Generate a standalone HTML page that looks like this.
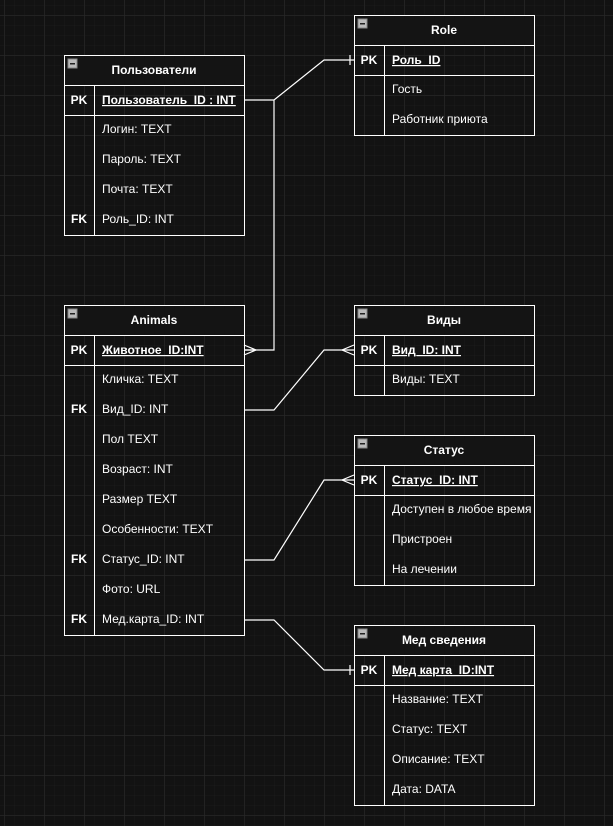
<!DOCTYPE html>
<html><head><meta charset="utf-8"><style>
html,body{margin:0;padding:0;background:#111;width:613px;height:826px;overflow:hidden}
svg{display:block}
text{font-family:"Liberation Sans","Noto Sans CJK SC",sans-serif;font-size:12px;fill:#fff}
</style></head><body>
<svg width="613" height="826" xmlns="http://www.w3.org/2000/svg">
<defs>
<pattern id="minor" width="10" height="10" patternUnits="userSpaceOnUse" x="4" y="5">
<path d="M0 0H10M0 0V10" stroke="#1b1b1b" stroke-width="1" fill="none"/></pattern>
<pattern id="major" width="40" height="40" patternUnits="userSpaceOnUse" x="4.5" y="15.5">
<path d="M0 0H40M0 0V40" stroke="#2a2a2a" stroke-width="1" fill="none"/></pattern>
</defs>
<rect width="613" height="826" fill="#121212"/>
<rect width="613" height="826" fill="url(#minor)"/>
<rect width="613" height="826" fill="url(#major)"/>

<g stroke="#fff" stroke-width="1.2" fill="none">
<path d="M244 100H274L324 60H354"/>
<path d="M350 55V65"/>
<path d="M274 100V350H244"/>
<path d="M244 350L256 350M244 345L256 350L244 355"/>
<path d="M244 410H274L324 350H354"/>
<path d="M354 345L342 350L354 355"/>
<path d="M244 560H274L324 480H354"/>
<path d="M354 475L342 480L354 485"/>
<path d="M244 620H274L324 670H354"/>
<path d="M350 665V675"/>
</g>

<g transform="translate(0,-1)">
<g>
<rect x="64.5" y="56.5" width="180" height="30" fill="#141414"/>
</g>
</g>

<g id="tables">
<rect x="64.5" y="55.5" width="180" height="30" fill="#141414"/>
<rect x="64.5" y="55.5" width="180" height="180" fill="none" stroke="#fff"/>
<path d="M64.5 85.5H244.5M64.5 115.5H244.5M94.5 85.5V235.5" stroke="#fff"/>
<rect x="68" y="59" width="9" height="9" fill="#bbb" stroke="#888"/><rect x="70" y="63" width="5" height="1.5" fill="#222"/>
<text x="154" y="74" text-anchor="middle" font-weight="bold">Пользователи</text>
<text x="79" y="104" text-anchor="middle" font-weight="bold">PK</text>
<text x="102" y="104" font-weight="bold" text-decoration="underline">Пользователь_ID : INT</text>
<text x="102" y="133">Логин: TEXT</text>
<text x="102" y="163">Пароль: TEXT</text>
<text x="102" y="193">Почта: TEXT</text>
<text x="79" y="223" text-anchor="middle" font-weight="bold">FK</text>
<text x="102" y="223">Роль_ID: INT</text>

<rect x="354.5" y="15.5" width="180" height="30" fill="#141414"/>
<rect x="354.5" y="15.5" width="180" height="120" fill="none" stroke="#fff"/>
<path d="M354.5 45.5H534.5M354.5 75.5H534.5M384.5 45.5V135.5" stroke="#fff"/>
<rect x="358" y="19" width="9" height="9" fill="#bbb" stroke="#888"/><rect x="360" y="23" width="5" height="1.5" fill="#222"/>
<text x="444" y="34" text-anchor="middle" font-weight="bold">Role</text>
<text x="369" y="64" text-anchor="middle" font-weight="bold">PK</text>
<text x="392" y="64" font-weight="bold" text-decoration="underline">Роль_ID</text>
<text x="392" y="93">Гость</text>
<text x="392" y="123">Работник приюта</text>

<rect x="64.5" y="305.5" width="180" height="30" fill="#141414"/>
<rect x="64.5" y="305.5" width="180" height="330" fill="none" stroke="#fff"/>
<path d="M64.5 335.5H244.5M64.5 365.5H244.5M94.5 335.5V635.5" stroke="#fff"/>
<rect x="68" y="309" width="9" height="9" fill="#bbb" stroke="#888"/><rect x="70" y="313" width="5" height="1.5" fill="#222"/>
<text x="154" y="324" text-anchor="middle" font-weight="bold">Animals</text>
<text x="79" y="354" text-anchor="middle" font-weight="bold">PK</text>
<text x="102" y="354" font-weight="bold" text-decoration="underline">Животное_ID:INT</text>
<text x="102" y="383">Кличка: TEXT</text>
<text x="79" y="413" text-anchor="middle" font-weight="bold">FK</text>
<text x="102" y="413">Вид_ID: INT</text>
<text x="102" y="443">Пол TEXT</text>
<text x="102" y="473">Возраст: INT</text>
<text x="102" y="503">Размер TEXT</text>
<text x="102" y="533">Особенности: TEXT</text>
<text x="79" y="563" text-anchor="middle" font-weight="bold">FK</text>
<text x="102" y="563">Статус_ID: INT</text>
<text x="102" y="593">Фото: URL</text>
<text x="79" y="623" text-anchor="middle" font-weight="bold">FK</text>
<text x="102" y="623">Мед.карта_ID: INT</text>

<rect x="354.5" y="305.5" width="180" height="30" fill="#141414"/>
<rect x="354.5" y="305.5" width="180" height="90" fill="none" stroke="#fff"/>
<path d="M354.5 335.5H534.5M354.5 365.5H534.5M384.5 335.5V395.5" stroke="#fff"/>
<rect x="358" y="309" width="9" height="9" fill="#bbb" stroke="#888"/><rect x="360" y="313" width="5" height="1.5" fill="#222"/>
<text x="444" y="324" text-anchor="middle" font-weight="bold">Виды</text>
<text x="369" y="354" text-anchor="middle" font-weight="bold">PK</text>
<text x="392" y="354" font-weight="bold" text-decoration="underline">Вид_ID: INT</text>
<text x="392" y="383">Виды: TEXT</text>

<rect x="354.5" y="435.5" width="180" height="30" fill="#141414"/>
<rect x="354.5" y="435.5" width="180" height="150" fill="none" stroke="#fff"/>
<path d="M354.5 465.5H534.5M354.5 495.5H534.5M384.5 465.5V585.5" stroke="#fff"/>
<rect x="358" y="439" width="9" height="9" fill="#bbb" stroke="#888"/><rect x="360" y="443" width="5" height="1.5" fill="#222"/>
<text x="444" y="454" text-anchor="middle" font-weight="bold">Статус</text>
<text x="369" y="484" text-anchor="middle" font-weight="bold">PK</text>
<text x="392" y="484" font-weight="bold" text-decoration="underline">Статус_ID: INT</text>
<text x="392" y="513">Доступен в любое время</text>
<text x="392" y="543">Пристроен</text>
<text x="392" y="573">На лечении</text>

<rect x="354.5" y="625.5" width="180" height="30" fill="#141414"/>
<rect x="354.5" y="625.5" width="180" height="180" fill="none" stroke="#fff"/>
<path d="M354.5 655.5H534.5M354.5 685.5H534.5M384.5 655.5V805.5" stroke="#fff"/>
<rect x="358" y="629" width="9" height="9" fill="#bbb" stroke="#888"/><rect x="360" y="633" width="5" height="1.5" fill="#222"/>
<text x="444" y="644" text-anchor="middle" font-weight="bold">Мед сведения</text>
<text x="369" y="674" text-anchor="middle" font-weight="bold">PK</text>
<text x="392" y="674" font-weight="bold" text-decoration="underline">Мед карта_ID:INT</text>
<text x="392" y="703">Название: TEXT</text>
<text x="392" y="733">Статус: TEXT</text>
<text x="392" y="763">Описание: TEXT</text>
<text x="392" y="793">Дата: DATA</text>
</g>
</svg>
</body></html>
